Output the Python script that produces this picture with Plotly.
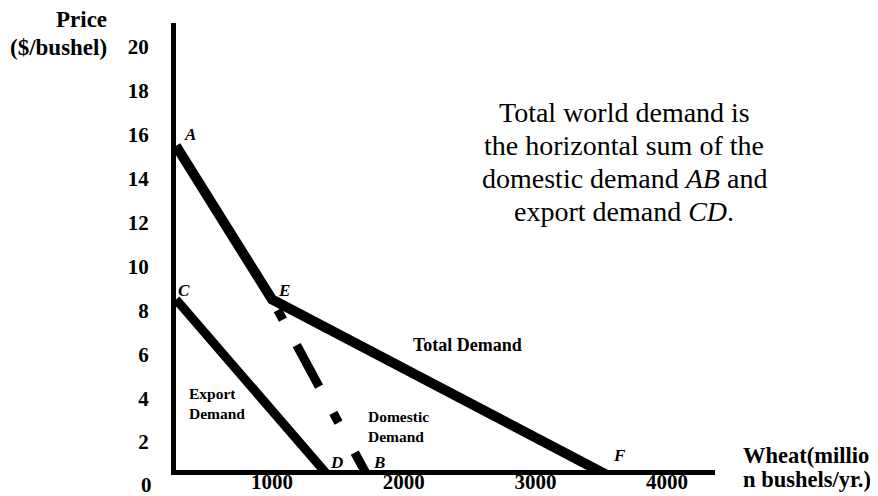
import plotly.graph_objects as go

# ---- data (quantity in million bushels, price in $/bushel) ----
x_tick_vals = [1000, 2000, 3000, 4000]
y_tick_vals = [2, 4, 6, 8, 10, 12, 14, 16, 18, 20]

# Total demand A -> E -> F
total_q = [271, 1000, 3560]
total_p = [15.5, 8.5, 0.45]
# Export demand C -> D
export_q = [271, 1430]
export_p = [8.5, 0.45]
# Domestic demand, visible dashed part E -> B
domestic_q = [1000, 1725]
domestic_p = [8.5, 0.45]

point_names = ["A", "C", "E", "D", "B", "F"]
point_q = [377, 332, 1091, 1493, 1812, 3642]
point_p = [16.04, 8.89, 8.89, 1.05, 1.05, 1.37]

note_lines = ["Total world demand is",
              "the horizontal sum of the",
              "domestic demand <i>AB</i> and",
              "export demand <i>CD</i>."]
note_p = [17.0, 15.5, 14.02, 12.53]

SERIF = "Liberation Serif"

# plot area in screen pixels (page body adds an 8px offset)
OFF = 8
PL, PR, PT, PB = 176, 715, 23, 470
W, H = 878, 496


def px(sx):
    return (sx - PL) / (PR - PL)


def py(sy):
    return (PB - sy) / (PB - PT)


fig = go.Figure()
fig.add_trace(go.Scatter(x=domestic_q, y=domestic_p, mode="lines",
                         line=dict(color="black", width=9,
                                   dash="0px,12px,11px,29px,47px,30px,11px,34px,80px"),
                         hoverinfo="skip", showlegend=False))
fig.add_trace(go.Scatter(x=export_q, y=export_p, mode="lines",
                         line=dict(color="black", width=9),
                         hoverinfo="skip", showlegend=False))
fig.add_trace(go.Scatter(x=total_q, y=total_p, mode="lines",
                         line=dict(color="black", width=10),
                         hoverinfo="skip", showlegend=False))

ann = []
for n, q, p in zip(point_names, point_q, point_p):
    ann.append(dict(x=q, y=p, xref="x", yref="y", text=f"<b><i>{n}</i></b>",
                    showarrow=False, font=dict(family=SERIF, size=17, color="black")))
for t, p in zip(note_lines, note_p):
    ann.append(dict(x=3673, y=p, xref="x", yref="y", text=t, showarrow=False,
                    font=dict(family=SERIF, size=28, color="black")))
ann.append(dict(x=2481, y=6.43, xref="x", yref="y", text="<b>Total Demand</b>",
                showarrow=False, font=dict(family=SERIF, size=18, color="black")))
ann.append(dict(x=355, y=3.76, xref="x", yref="y", text="<b>Export<br>Demand</b>",
                showarrow=False, xanchor="left", align="left",
                font=dict(family=SERIF, size=15.5, color="black")))
ann.append(dict(x=1714, y=2.71, xref="x", yref="y", text="<b>Domestic<br>Demand</b>",
                showarrow=False, xanchor="left", align="left",
                font=dict(family=SERIF, size=15.5, color="black")))
ann.append(dict(x=px(146), y=py(485), xref="paper", yref="paper", text="<b>0</b>",
                showarrow=False, xanchor="center", yanchor="middle",
                font=dict(family=SERIF, size=21, color="black")))
ann.append(dict(x=px(109), y=py(20), xref="paper", yref="paper", text="<b>Price</b>",
                showarrow=False, xanchor="right", yanchor="middle",
                font=dict(family=SERIF, size=23, color="black")))
ann.append(dict(x=px(109), y=py(48), xref="paper", yref="paper", text="<b>($/bushel)</b>",
                showarrow=False, xanchor="right", yanchor="middle",
                font=dict(family=SERIF, size=23, color="black")))
ann.append(dict(x=px(741), y=py(455), xref="paper", yref="paper", text="<b>Wheat(millio</b>",
                showarrow=False, xanchor="left", yanchor="middle",
                font=dict(family=SERIF, size=22.5, color="black")))
ann.append(dict(x=px(741), y=py(479), xref="paper", yref="paper", text="<b>n bushels/yr.)</b>",
                showarrow=False, xanchor="left", yanchor="middle",
                font=dict(family=SERIF, size=22.5, color="black")))

axis_common = dict(showline=True, linewidth=5, linecolor="black", ticks="",
                   showgrid=False, zeroline=False, automargin=False,
                   tickfont=dict(family=SERIF, size=21, color="black", weight="bold"))

fig.update_layout(
    template="none",
    width=W, height=H, autosize=False,
    margin=dict(l=PL - OFF, r=W - (PR - OFF), t=PT - OFF, b=H - (PB - OFF), pad=0),
    paper_bgcolor="white", plot_bgcolor="white",
    showlegend=False,
    annotations=ann,
    xaxis=dict(range=[271.1, 4363.7], tickvals=x_tick_vals,
               ticktext=[str(v) for v in x_tick_vals], ticklabelstandoff=-11,
               **axis_common),
    yaxis=dict(range=[0.729, 21.10], tickvals=y_tick_vals,
               ticktext=[str(v) for v in y_tick_vals], ticklabelstandoff=18,
               **axis_common),
)

fig.write_html("out.html")
